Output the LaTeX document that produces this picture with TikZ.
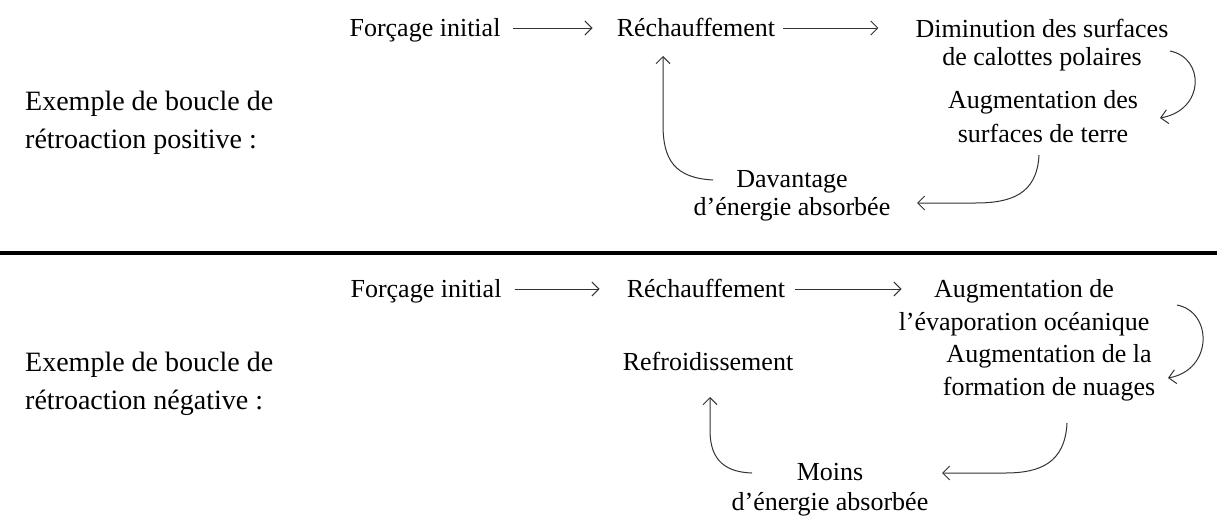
\documentclass[tikz,border=0pt]{standalone}
\usepackage{fontspec}
\setmainfont{Liberation Serif}
\usetikzlibrary{arrows.meta}
\begin{document}
\begin{tikzpicture}[x=1pt,y=-1pt,
  txt/.style={inner sep=0pt, anchor=base, font=\fontsize{26}{30}\selectfont, align=center},
  bs/.style={font=\fontsize{26}{#1}\selectfont},
  one/.style={text height=20pt, text depth=4pt},
  lbl/.style={inner sep=0pt, anchor=base west, font=\fontsize{28}{38}\selectfont, align=left},
  conn/.style={line width=1pt, black!80, -{Straight Barb[length=7pt,width=14pt]}}]
\useasboundingbox (0,0) rectangle (1217,517);

% labels
\node[lbl] (l1) at (25,148) {Exemple de boucle de\\rétroaction positive :};
\node[lbl] (l2) at (25,409) {Exemple de boucle de\\rétroaction négative :};

% separator
\fill[black] (0,250.5) rectangle (1217,255);

% top loop
\node[txt,one] (f1) at (425,36) {Forçage initial};
\node[txt,one] (r1) at (696,36) {Réchauffement};
\node[txt,bs=28] (d1) at (1042,65) {Diminution des surfaces\\de calottes polaires};
\node[txt,bs=34] (a1) at (1043,142) {Augmentation des\\surfaces de terre};
\node[txt,bs=28] (v1) at (792,215) {Davantage\\d’énergie absorbée};

\draw[conn, shorten <=12pt, shorten >=24pt] (f1.east) -- (r1.west);
\draw[conn, shorten <=8pt, shorten >=37pt] (r1.east) -- (r1.east -| d1.west);

\coordinate (p1s) at (1170,51);
\coordinate (p1e) at (1160,118);
\draw[conn] (p1s) .. controls (1205,58) and (1205,110) .. (p1e);
\coordinate (p2s) at (1039,155);
\coordinate (p2m) at (975,203);
\coordinate (p2e) at (917,203);
\draw[conn] (p2s) .. controls (1037,195) and (1010,203) .. (p2m) -- (p2e);
\coordinate (p3s) at (713,180);
\coordinate (p3m) at (663,125);
\coordinate (p3e) at (663,56);
\draw[conn] (p3s) .. controls (675,178) and (663,160) .. (p3m) -- (p3e);

% bottom loop
\node[txt,one] (f2) at (426,297) {Forçage initial};
\node[txt,one] (r2) at (706,297) {Réchauffement};
\node[txt,bs=33] (e2) at (1024,330) {Augmentation de\\l’évaporation océanique};
\node[txt,bs=33] (n2) at (1049,395) {Augmentation de la\\formation de nuages};
\node[txt] (c2) at (708,370) {Refroidissement};
\node[txt,bs=30] (m2) at (830,510) {Moins\\d’énergie absorbée};

\draw[conn, shorten <=13pt, shorten >=27pt] (f2.east) -- (r2.west);
\draw[conn, shorten <=10pt] (r2.east) -- ([xshift=3pt]r2.east -| e2.north west);

\coordinate (q1s) at (1177,305);
\coordinate (q1e) at (1168,378);
\draw[conn] (q1s) .. controls (1213,312) and (1213,370) .. (q1e);
\coordinate (q2s) at (1067,423);
\coordinate (q2m) at (1005,473);
\coordinate (q2e) at (942,473);
\draw[conn] (q2s) .. controls (1065,463) and (1040,473) .. (q2m) -- (q2e);
\coordinate (q3s) at (752,473);
\coordinate (q3m) at (710,430);
\coordinate (q3e) at (710,397);
\draw[conn] (q3s) .. controls (720,472) and (710,455) .. (q3m) -- (q3e);
\end{tikzpicture}
\end{document}
